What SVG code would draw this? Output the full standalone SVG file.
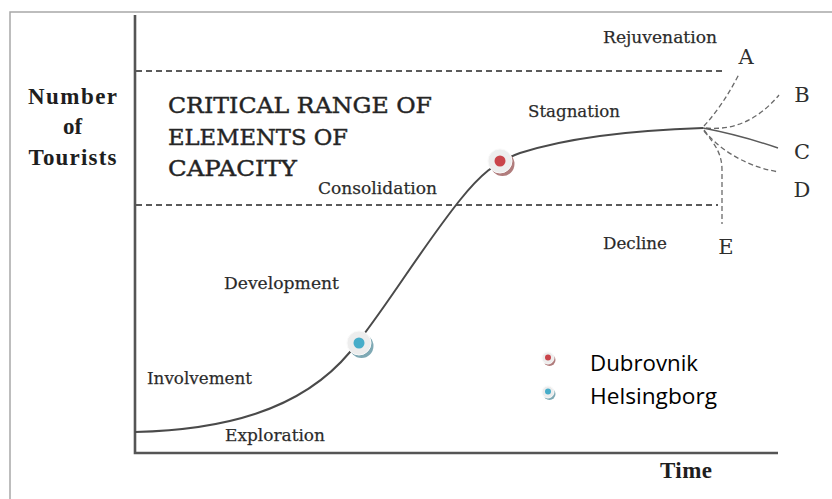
<svg xmlns="http://www.w3.org/2000/svg" width="832" height="499" viewBox="0 0 832 499">
  <style>
    .frame { fill: none; stroke: #a8a8a8; stroke-width: 1.5; }
    .axis { fill: none; stroke: #555; stroke-width: 2.6; }
    .dash { fill: none; stroke: #5a5a5a; stroke-width: 1.8; stroke-dasharray: 6 4; }
    .curve { fill: none; stroke: #4a4a4a; stroke-width: 2; }
    .branch { fill: none; stroke: #6a6a6a; stroke-width: 1.3; stroke-dasharray: 5 3; }
    .branch-solid { fill: none; stroke: #5a5a5a; stroke-width: 1.4; }
    .lab { font-family: "DejaVu Serif", "Liberation Serif", serif; font-size: 17px; fill: #262626; stroke: #444; stroke-width: 0.25; }
    .letter { font-family: "DejaVu Serif", "Liberation Serif", serif; font-size: 21px; fill: #2e2e2e; text-anchor: middle; }
    .title { font-family: "DejaVu Serif", "Liberation Serif", serif; font-size: 22.5px; fill: #222; stroke: #333; stroke-width: 0.45; }
    .bold { font-family: "Liberation Serif", "DejaVu Serif", serif; font-size: 23px; font-weight: bold; fill: #1e1e1e; }
    .legend { font-family: "Open Sans", "Noto Sans", "Liberation Sans", sans-serif; font-size: 22.5px; fill: #000; }
    .ring { fill: #ededed; stroke: #fafafa; stroke-width: 1; }
    .red { fill: #c9444a; }
    .blue { fill: #47adc9; }
    .shred { fill: #b07c7c; }
    .shblue { fill: #7fa9b4; }
  </style>

  <rect x="0" y="0" width="832" height="499" fill="#ffffff"/>
  <path class="frame" d="M10,500 L10,12 L833,12"/>

  <g id="axes">
    <path class="axis" d="M135,15 L135,453 L778,453"/>
  </g>

  <g id="connectors">
    <path class="dash" d="M136,71 L722,71"/>
    <path class="dash" d="M136,205 L718,205"/>
    <path class="curve" d="M135,432 C220,430 300,412 350,352 C382,314 420,250 460,200 C480,175 495,162 520,153 C570,137 640,130 703,128"/>
    <path id="branch-A" class="branch" d="M704,126 Q724,104 739,74"/>
    <path id="branch-B" class="branch" d="M706,128 Q748,132 779,95"/>
    <path id="branch-C" class="branch-solid" d="M703,128 Q740,135 778,148"/>
    <path id="branch-D" class="branch" d="M704,130 C716,146 742,166 779,172"/>
    <path id="branch-E" class="branch" d="M704,131 C716,145 722,155 722,170 L722,224"/>
  </g>

  <g id="y-label">
    <text class="bold" x="72.5" y="104" text-anchor="middle" textLength="89" lengthAdjust="spacing">Number</text>
    <text class="bold" x="72.5" y="134" text-anchor="middle">of</text>
    <text class="bold" x="72.5" y="165" text-anchor="middle" textLength="88" lengthAdjust="spacing">Tourists</text>
  </g>
  <g id="x-label">
    <text class="bold" x="660" y="478" textLength="52" lengthAdjust="spacing">Time</text>
  </g>

  <g id="critical-range">
    <text class="title" x="168" y="113" textLength="264" lengthAdjust="spacingAndGlyphs">CRITICAL RANGE OF</text>
    <text class="title" x="168" y="145" textLength="180" lengthAdjust="spacingAndGlyphs">ELEMENTS OF</text>
    <text class="title" x="168" y="176" textLength="129" lengthAdjust="spacingAndGlyphs">CAPACITY</text>
  </g>

  <g id="stage-labels">
    <text class="lab" x="603" y="43" textLength="114" lengthAdjust="spacingAndGlyphs">Rejuvenation</text>
    <text class="lab" x="528" y="117" textLength="92" lengthAdjust="spacingAndGlyphs">Stagnation</text>
    <text class="lab" x="318" y="194" textLength="119" lengthAdjust="spacingAndGlyphs">Consolidation</text>
    <text class="lab" x="603" y="249" textLength="64" lengthAdjust="spacingAndGlyphs">Decline</text>
    <text class="lab" x="224" y="289" textLength="115" lengthAdjust="spacingAndGlyphs">Development</text>
    <text class="lab" x="147" y="384" textLength="105" lengthAdjust="spacingAndGlyphs">Involvement</text>
    <text class="lab" x="225" y="441" textLength="100" lengthAdjust="spacingAndGlyphs">Exploration</text>
  </g>

  <g id="branch-labels">
    <text class="letter" x="746" y="64">A</text>
    <text class="letter" x="802" y="102">B</text>
    <text class="letter" x="802" y="159">C</text>
    <text class="letter" x="802" y="197">D</text>
    <text class="letter" x="726" y="254">E</text>
  </g>

  <g id="marker-helsingborg">
    <circle class="shblue" cx="361.5" cy="346" r="12"/>
    <circle class="ring" cx="359" cy="343" r="12"/>
    <circle class="blue" cx="359" cy="343" r="5.5"/>
  </g>
  <g id="marker-dubrovnik">
    <circle class="shred" cx="502.5" cy="164" r="12"/>
    <circle class="ring" cx="500" cy="161" r="12"/>
    <circle class="red" cx="500" cy="161" r="5.5"/>
  </g>

  <g id="legend">
    <g id="legend-dubrovnik">
      <circle class="shred" cx="549.5" cy="360" r="6"/>
      <circle class="ring" cx="548" cy="358" r="6"/>
      <circle class="red" cx="548" cy="357.5" r="3"/>
      <text class="legend" x="590" y="371" textLength="108" lengthAdjust="spacingAndGlyphs">Dubrovnik</text>
    </g>
    <g id="legend-helsingborg">
      <circle class="shblue" cx="549.5" cy="394" r="6"/>
      <circle class="ring" cx="548" cy="392" r="6"/>
      <circle class="blue" cx="548" cy="391.5" r="3"/>
      <text class="legend" x="590" y="404" textLength="127" lengthAdjust="spacingAndGlyphs">Helsingborg</text>
    </g>
  </g>
</svg>
